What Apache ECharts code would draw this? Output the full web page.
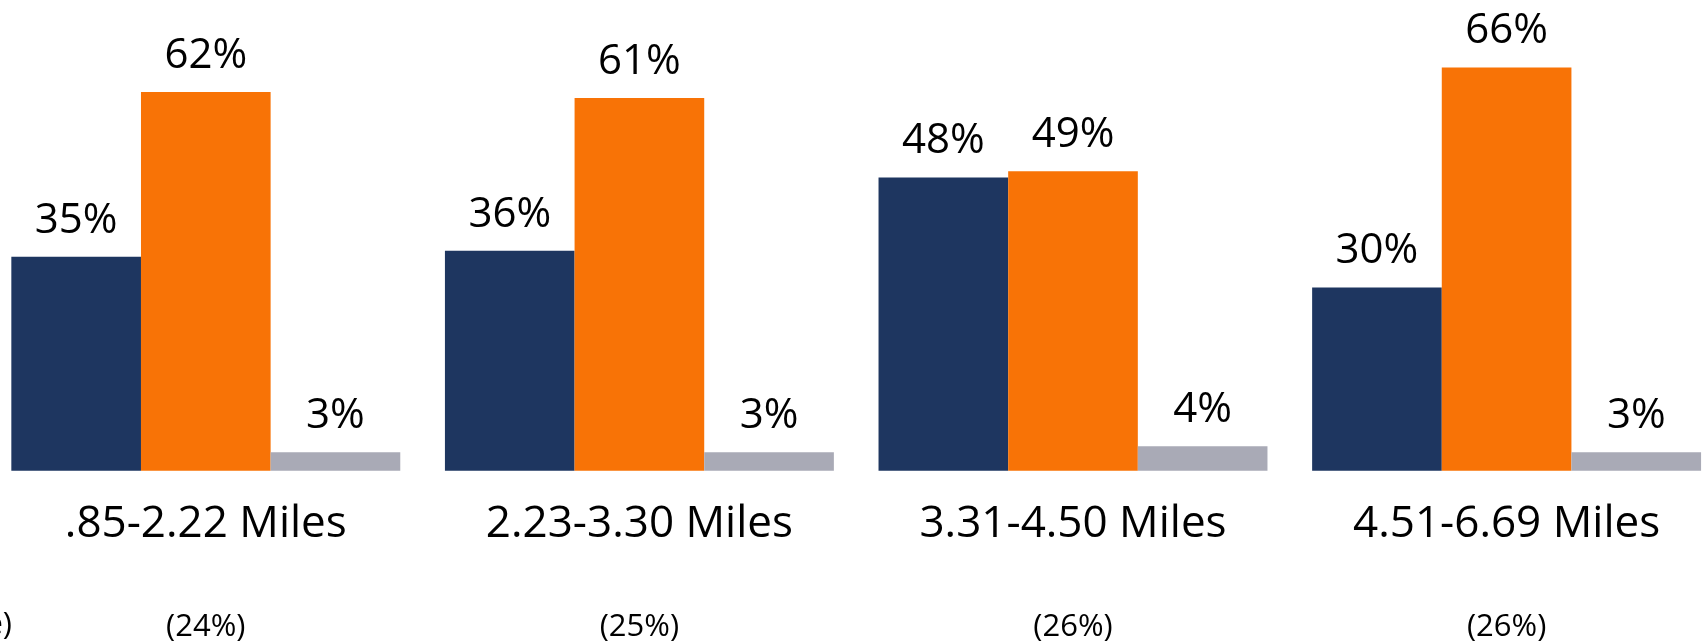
<!DOCTYPE html>
<html>
<head>
<meta charset="utf-8">
<script src="https://cdn.jsdelivr.net/npm/echarts@6/dist/echarts.min.js"></script>
<style>
  html, body { margin: 0; padding: 0; background: #ffffff; }
  #chart { width: 1704px; height: 642px; }
</style>
</head>
<body>
<div id="chart"></div>
<script>
// Trip distance bands and the share of trips in each band
const categories = ['.85-2.22 Miles', '2.23-3.30 Miles', '3.31-4.50 Miles', '4.51-6.69 Miles'];
const bandShares = ['(24%)', '(25%)', '(26%)', '(26%)'];

// Percentages per response within each distance band
const seriesNavy = [35, 36, 48, 30];
const seriesOrange = [62, 61, 49, 66];
const seriesGray = [3, 3, 4, 3];

const FONT = '"Open Sans", "Noto Sans", sans-serif';

const valueLabel = {
  show: true,
  position: 'top',
  distance: 14,
  formatter: p => p.value + '%',
  color: '#000000',
  fontFamily: FONT,
  fontSize: 42,
  lineHeight: 44
};

function barSeries(data, color) {
  return {
    type: 'bar',
    data: data,
    barGap: '0%',
    barCategoryGap: '10.3%',
    itemStyle: { color: color },
    label: valueLabel,
    emphasis: { disabled: true },
    silent: true
  };
}

const chart = echarts.init(document.getElementById('chart'), null, { renderer: 'canvas' });
chart.setOption({
  animation: false,
  backgroundColor: '#ffffff',
  grid: {
    left: -11, right: -19.4, top: 43, bottom: 171.3,
    containLabel: false,
    outerBoundsMode: 'none'
  },
  xAxis: {
    type: 'category',
    data: categories,
    axisLine: { show: false },
    axisTick: { show: false },
    axisLabel: {
      margin: 32,
      interval: 0,
      formatter: (value, index) => '{a|' + value + '}\n{b|' + bandShares[index] + '}',
      rich: {
        a: { fontFamily: FONT, fontSize: 44, lineHeight: 44, color: '#000000' },
        b: { fontFamily: FONT, fontSize: 31, lineHeight: 160, color: '#000000' }
      }
    }
  },
  yAxis: {
    type: 'value',
    min: 0,
    max: 70,
    show: false,
    splitLine: { show: false }
  },
  graphic: [{
    type: 'text',
    x: 12,
    y: 625,
    style: {
      text: 'e)',
      fontFamily: FONT,
      fontSize: 31,
      fill: '#000000',
      align: 'right',
      verticalAlign: 'middle'
    }
  }],
  series: [
    barSeries(seriesNavy, '#1E3660'),
    barSeries(seriesOrange, '#F87306'),
    barSeries(seriesGray, '#A9AAB6')
  ]
});
</script>
</body>
</html>
